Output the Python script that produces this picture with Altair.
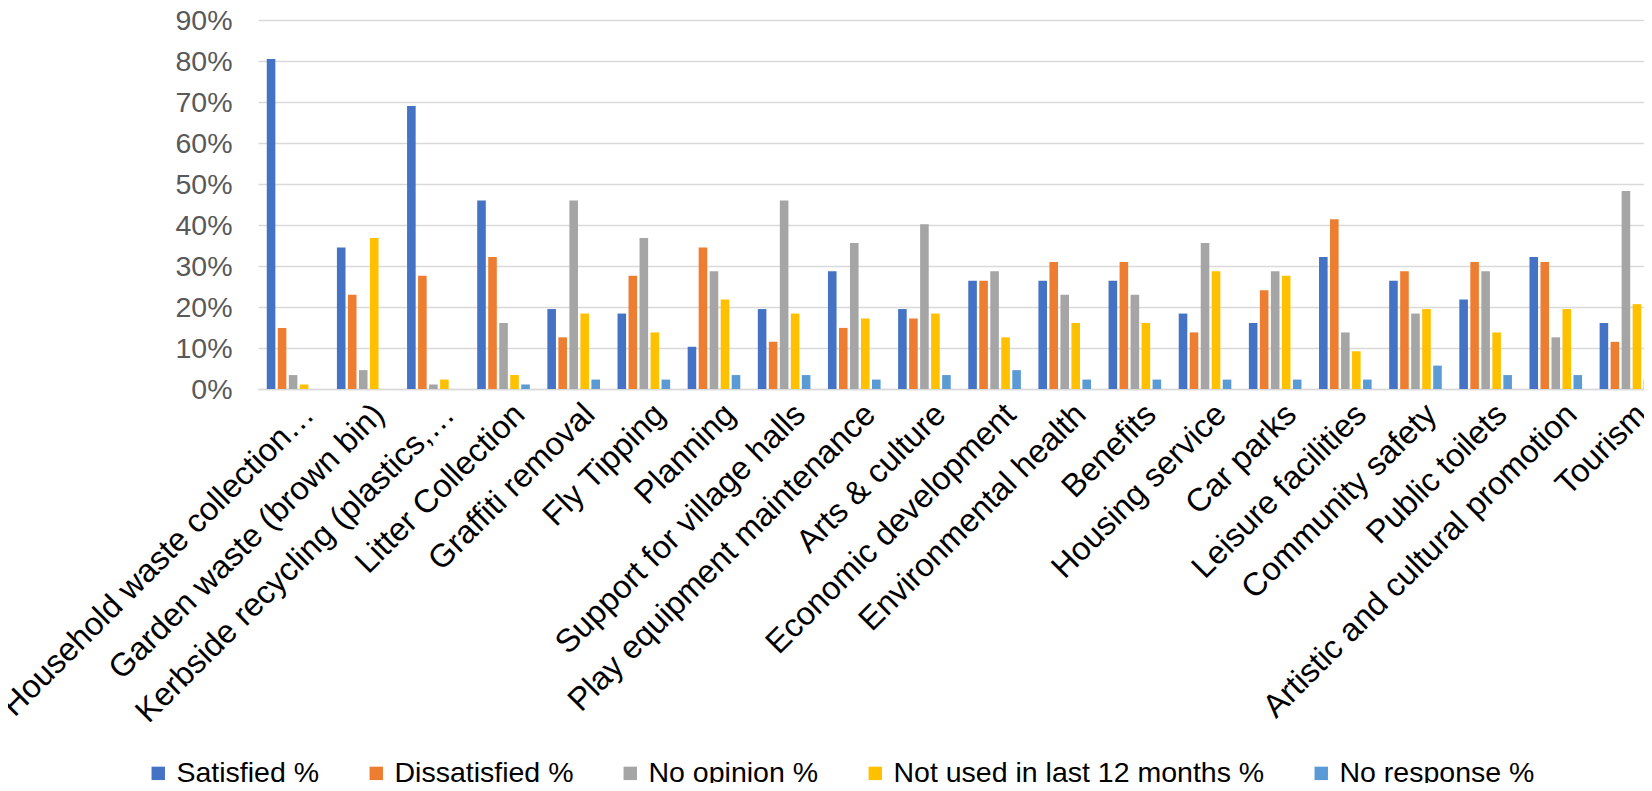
import altair as alt
import pandas as pd

categories = [
    "Household waste collection…",
    "Garden waste (brown bin)",
    "Kerbside recycling (plastics,…",
    "Litter Collection",
    "Graffiti removal",
    "Fly Tipping",
    "Planning",
    "Support for village halls",
    "Play equipment maintenance",
    "Arts & culture",
    "Economic development",
    "Environmental health",
    "Benefits",
    "Housing service",
    "Car parks",
    "Leisure facilities",
    "Community safety",
    "Public toilets",
    "Artistic and cultural promotion",
    "Tourism",
]

series = ["Satisfied %", "Dissatisfied %", "No opinion %",
          "Not used in last 12 months %", "No response %"]
colors = ["#4472C4", "#ED7D31", "#A5A5A5", "#FFC000", "#5B9BD5"]

satisfied = [80.5, 34.5, 69.0, 46.0, 19.5, 18.4, 10.3, 19.5, 28.7, 19.5,
             26.4, 26.4, 26.4, 18.4, 16.1, 32.2, 26.4, 21.8, 32.2, 16.1]
dissatisfied = [14.9, 23.0, 27.6, 32.2, 12.6, 27.6, 34.5, 11.5, 14.9, 17.2,
                26.4, 31.0, 31.0, 13.8, 24.1, 41.4, 28.7, 31.0, 31.0, 11.5]
no_opinion = [3.4, 4.6, 1.1, 16.1, 46.0, 36.8, 28.7, 46.0, 35.6, 40.2,
              28.7, 23.0, 23.0, 35.6, 28.7, 13.8, 18.4, 28.7, 12.6, 48.3]
not_used = [1.1, 36.8, 2.3, 3.4, 18.4, 13.8, 21.8, 18.4, 17.2, 18.4,
            12.6, 16.1, 16.1, 28.7, 27.6, 9.2, 19.5, 13.8, 19.5, 20.7]
no_response = [0.0, 0.0, 0.0, 1.1, 2.3, 2.3, 3.4, 3.4, 2.3, 3.4,
               4.6, 2.3, 2.3, 2.3, 2.3, 2.3, 5.7, 3.4, 3.4, 2.3]

y_ticks = [0, 10, 20, 30, 40, 50, 60, 70, 80, 90]

values_by_series = [satisfied, dissatisfied, no_opinion, not_used, no_response]
rows = []
for s, vals in zip(series, values_by_series):
    for c, v in zip(categories, vals):
        rows.append({"Service": c, "Series": s, "Value": v})
df = pd.DataFrame(rows)

FONT = "Liberation Sans"

chart = alt.Chart(df).mark_bar().encode(
    x=alt.X("Service:N", sort=categories,
            scale=alt.Scale(paddingInner=0.25, paddingOuter=0.125,
                            range=[0, 1403]),
            axis=alt.Axis(title=None, labelAngle=-45, labelFontSize=32.5,
                          labelAlign="right", labelBaseline="alphabetic",
                          labelColor="#000000", labelFont=FONT, ticks=False,
                          domainColor="#D9D9D9", domainWidth=1.5,
                          labelLimit=800, labelPadding=27, labelOffset=23)),
    xOffset=alt.XOffset("Series:N", sort=series,
                        scale=alt.Scale(paddingInner=0.22, paddingOuter=0)),
    y=alt.Y("Value:Q", scale=alt.Scale(domain=[0, 90], nice=False),
            axis=alt.Axis(title=None, values=y_ticks, labelFontSize=28.5,
                          labelColor="#595959", labelFont=FONT,
                          labelExpr="datum.value + '%'",
                          ticks=False, domain=False, gridColor="#D9D9D9",
                          gridWidth=1.5, labelPadding=26)),
    color=alt.Color("Series:N", sort=series,
                    scale=alt.Scale(domain=series, range=colors),
                    legend=alt.Legend(title=None, orient="none",
                                      legendX=-114, legendY=739,
                                      direction="horizontal", columns=5,
                                      symbolType="square", symbolSize=180,
                                      symbolStrokeWidth=0,
                                      labelFontSize=28.5, labelFont=FONT,
                                      labelColor="#000000", labelOffset=4,
                                      columnPadding=42, labelLimit=600)),
).properties(
    width=1386,
    height=369,
    autosize=alt.AutoSizeParams(type="none"),
    padding={"left": 250, "top": 12, "right": 0, "bottom": 394},
).configure_view(stroke=None)

chart.save("out.html", embed_options={"renderer": "svg", "actions": False})
